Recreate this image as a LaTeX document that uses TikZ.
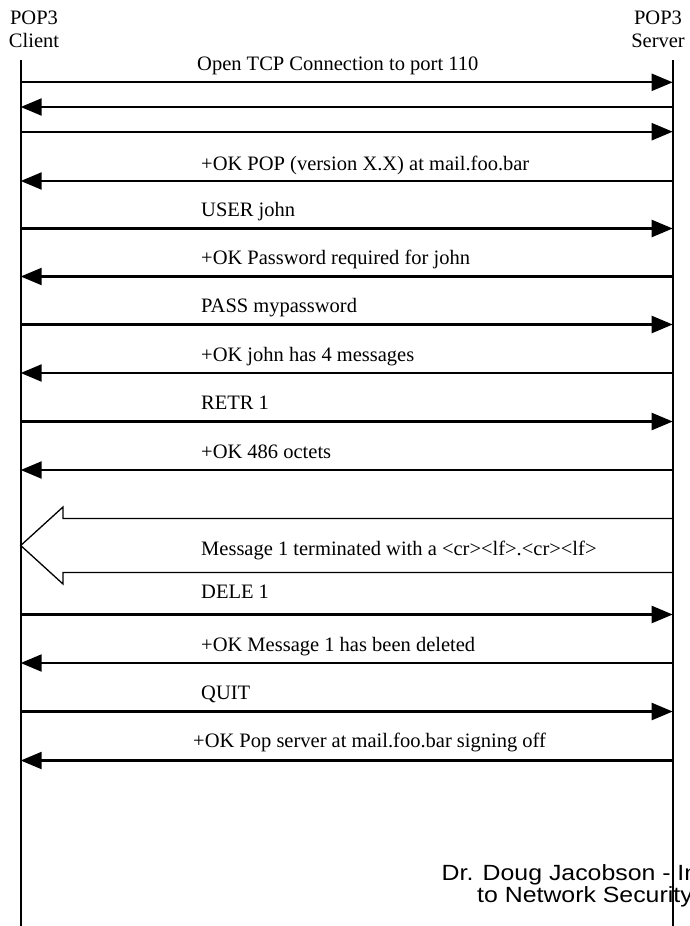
\documentclass[tikz,border=0pt]{standalone}
\usepackage{fontspec}
\setmainfont{Liberation Serif}
\setsansfont{Liberation Sans}
\newfontfamily\creditfont[FakeStretch=1.13]{Liberation Sans}
\usetikzlibrary{arrows.meta, positioning}

\begin{document}
\begin{tikzpicture}[x=1pt, y=-1pt,
    % Host headers: two centred lines above each lifeline.
    host/.style={align=center, inner sep=0pt, anchor=north,
                 font=\fontsize{20.5}{23}\selectfont},
    % Lifelines of the two hosts.
    lifeline/.style={line width=2.4pt},
    % Single commands and replies: thick line, solid triangle tip.
    msg/.style={line width=2.2pt, -{Triangle[length=21pt, width=17pt]}},
    % Message labels sit just above their line.
    lbl/.style={anchor=base west, inner sep=0pt,
                font=\fontsize{20.5}{24}\selectfont},
    % Bulk transfer of the mail body: hollow block arrow.
    bulk/.style={line width=1.3pt, line join=miter},
    % Slide footer in a wide sans serif.
    footer/.style={anchor=base west, inner sep=0pt,
                   font=\creditfont\fontsize{22}{26}\selectfont}
]
    \useasboundingbox (0,0) rectangle (690,926);
    \clip (0,0) rectangle (690,926);

    % === Hosts ===
    \node[host] (client) at (34, 11)  {POP3\\Client};
    \node[host] (server) at (658, 11) {POP3\\Server};

    % === Message rows: client end (cN), server end (sN) ===
    \coordinate (c1)  at (20.7, 82.3);  \coordinate (s1)  at (672.7, 82.3);
    \coordinate (c2)  at (20.7, 107);   \coordinate (s2)  at (672.7, 107);
    \coordinate (c3)  at (20.7, 131.7); \coordinate (s3)  at (672.7, 131.7);
    \coordinate (c4)  at (20.7, 181);   \coordinate (s4)  at (672.7, 181);
    \coordinate (c5)  at (20.7, 228.5); \coordinate (s5)  at (672.7, 228.5);
    \coordinate (c6)  at (20.7, 276.5); \coordinate (s6)  at (672.7, 276.5);
    \coordinate (c7)  at (20.7, 324.5); \coordinate (s7)  at (672.7, 324.5);
    \coordinate (c8)  at (20.7, 373);   \coordinate (s8)  at (672.7, 373);
    \coordinate (c9)  at (20.7, 421.5); \coordinate (s9)  at (672.7, 421.5);
    \coordinate (c10) at (20.7, 470);   \coordinate (s10) at (672.7, 470);
    \coordinate (c12) at (20.7, 614.5); \coordinate (s12) at (672.7, 614.5);
    \coordinate (c13) at (20.7, 663);   \coordinate (s13) at (672.7, 663);
    \coordinate (c14) at (20.7, 711.5); \coordinate (s14) at (672.7, 711.5);
    \coordinate (c15) at (20.7, 760.5); \coordinate (s15) at (672.7, 760.5);

    % === Connection set-up (three-way handshake) ===
    \draw[msg] (c1) -- (s1);
    \draw[msg] (s2) -- (c2);
    \draw[msg] (c3) -- (s3);
    \node[lbl] (open) at (197, 70.5) {Open TCP Connection to port 110};

    % === Session ===
    \draw[msg] (s4) -- (c4);
    \node[lbl] (greet) at (201, 170) {+OK POP (version X.X) at mail.foo.bar};
    \draw[msg] (c5) -- (s5);
    \node[lbl] (user) at (201, 216.5) {USER john};
    \draw[msg] (s6) -- (c6);
    \node[lbl] (pwreq) at (201, 264.5) {+OK Password required for john};
    \draw[msg] (c7) -- (s7);
    \node[lbl] (pass) at (201, 312.5) {PASS mypassword};
    \draw[msg] (s8) -- (c8);
    \node[lbl] (count) at (201, 361) {+OK john has 4 messages};
    \draw[msg] (c9) -- (s9);
    \node[lbl] (retr) at (201, 409.5) {RETR 1};
    \draw[msg] (s10) -- (c10);
    \node[lbl] (size) at (201, 458) {+OK 486 octets};

    % === Mail body: block arrow from server back to client ===
    \draw[bulk] (672.7, 518.5) -- (63, 518.5) -- (63, 507) -- (20.7, 545.5)
                -- (63, 584) -- (63, 572.5) -- (672.7, 572.5);
    \node[lbl] (body) at (201, 555) {Message 1 terminated with a <cr><lf>.<cr><lf>};

    % === Delete and quit ===
    \draw[msg] (c12) -- (s12);
    \node[lbl] (dele) at (201, 598) {DELE 1};
    \draw[msg] (s13) -- (c13);
    \node[lbl] (deleted) at (201, 651) {+OK Message 1 has been deleted};
    \draw[msg] (c14) -- (s14);
    \node[lbl] (quit) at (201, 699.5) {QUIT};
    \draw[msg] (s15) -- (c15);
    \node[lbl] (bye) at (193, 747) {+OK Pop server at mail.foo.bar signing off};

    % === Footer (cut by the page edge) ===
    \node[footer] (credit1) at (441.5, 880) {Dr. Doug Jacobson - Introduction};
    \node[footer] (credit2) at (477, 902) {to Network Security};

    % === Lifelines, drawn last so they cross the footer ===
    \coordinate (ctop) at (20.7, 60);  \coordinate (cbot) at (20.7, 926);
    \coordinate (stop) at (672.7, 60); \coordinate (sbot) at (672.7, 926);
    \draw[lifeline] (ctop) -- (cbot);
    \draw[lifeline] (stop) -- (sbot);
\end{tikzpicture}
\end{document}
